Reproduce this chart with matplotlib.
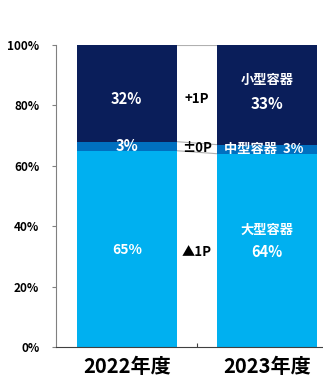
import matplotlib.pyplot as plt
import numpy as np

plt.rcParams['font.family'] = ['Noto Sans CJK JP', 'DejaVu Sans']

years = ['2022年度', '2023年度']
large = [65, 64]   # 大型容器
mid = [3, 3]       # 中型容器
small = [32, 33]   # 小型容器
diff_labels = ['▲1P', '±0P', '+1P']

c_large = '#00b0f0'
c_mid = '#0070c0'
c_small = '#0a1e5a'

fig = plt.figure(figsize=(3.23, 3.76), dpi=100)
ax = fig.add_axes([0.1734, 0.0771, 0.8266, 0.8032])

x = np.arange(len(years))
w = 0.71
large = np.array(large)
mid = np.array(mid)
small = np.array(small)

ax.bar(x, large, w, color=c_large, zorder=2)
ax.bar(x, mid, w, bottom=large, color=c_mid, zorder=2)
ax.bar(x, small, w, bottom=large + mid, color=c_small, zorder=2)

# connector lines between bars
for tops in [large, large + mid, large + mid + small]:
    ax.plot([x[0] + w / 2, x[1] - w / 2], [tops[0], tops[1]],
            color='#b0b0b0', lw=0.8, zorder=1)

# 2022 labels
ax.text(x[0], 82, f'{small[0]}%', color='white',
        fontsize=10.5, fontweight='bold', ha='center', va='center')
ax.text(x[0], large[0] + mid[0] / 2, f'{mid[0]}%', color='white',
        fontsize=10.5, fontweight='bold', ha='center', va='center')
ax.text(x[0], 32, f'{large[0]}%', color='white',
        fontsize=10, fontweight='bold', ha='center', va='center')

# 2023 labels
ax.text(x[1], 88.5, '小型容器', color='white',
        fontsize=9.5, fontweight='bold', ha='center', va='center')
ax.text(x[1], 80.5, f'{small[1]}%', color='white',
        fontsize=11, fontweight='bold', ha='center', va='center')
ax.text(x[1] - 0.02, large[1] + mid[1] / 2, f'中型容器  {mid[1]}%', color='white',
        fontsize=9.5, fontweight='bold', ha='center', va='center')
ax.text(x[1], 38.7, '大型容器', color='white',
        fontsize=9.5, fontweight='bold', ha='center', va='center')
ax.text(x[1], 31.5, f'{large[1]}%', color='white',
        fontsize=10.5, fontweight='bold', ha='center', va='center')

# change labels in the gap
xm = (x[0] + x[1]) / 2
ax.text(xm, 31.5, diff_labels[0], fontsize=9.5,
        fontweight='bold', ha='center', va='center', color='black')
ax.text(xm, 66, diff_labels[1], fontsize=9.5,
        fontweight='bold', ha='center', va='center', color='black', zorder=3)
ax.text(xm, 82, diff_labels[2], fontsize=9.5,
        fontweight='bold', ha='center', va='center', color='black')

ax.set_ylim(0, 100)
ax.set_xlim(-0.505, 1.4)
ax.set_yticks(np.arange(0, 101, 20))
ax.set_yticklabels([f'{v}%' for v in range(0, 101, 20)], fontsize=8.5, fontweight='bold')
ax.set_xticks([0.5])
ax.set_xticklabels([''])
ax.tick_params(axis='x', length=3, color='#404040', direction='in')
ax.tick_params(axis='y', length=3, color='#808080', pad=9)
for i, y in enumerate(years):
    ax.text(x[i], -6.5, y, fontsize=14.5, fontweight='bold', ha='center', va='center')

ax.spines['top'].set_visible(False)
ax.spines['right'].set_visible(False)
ax.spines['left'].set_color('#808080')
ax.spines['bottom'].set_color('#404040')

fig.savefig('out.png', dpi=100)
